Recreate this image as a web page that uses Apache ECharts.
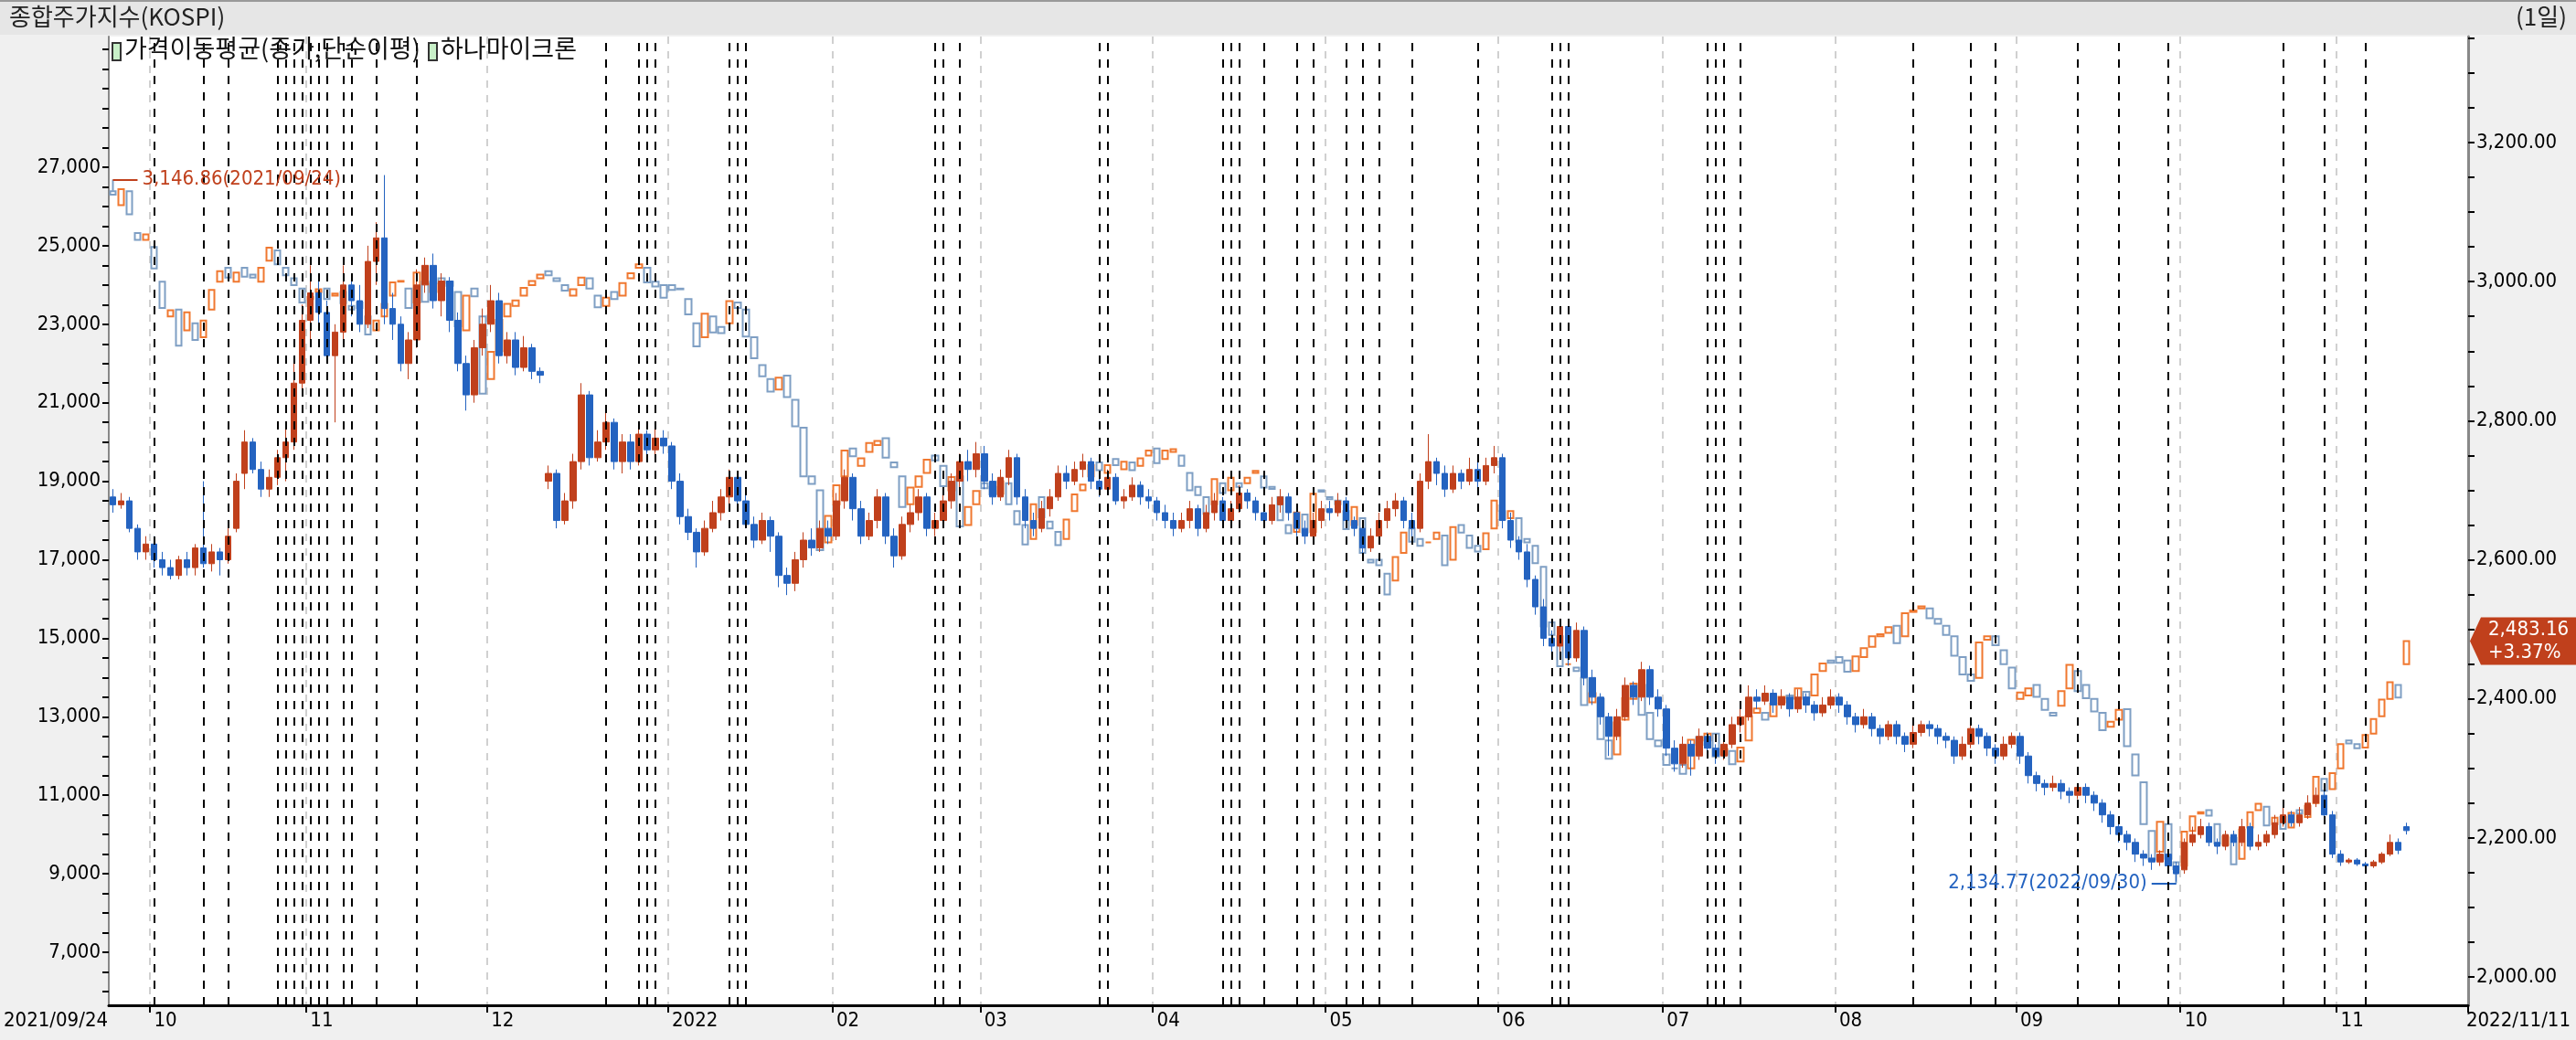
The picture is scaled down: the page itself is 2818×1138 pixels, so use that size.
<!DOCTYPE html>
<html><head><meta charset="utf-8">
<script src="https://cdn.jsdelivr.net/npm/echarts@6/dist/echarts.min.js"></script>
<style>html,body{margin:0;padding:0;background:#f0f0f0}#c{width:2818px;height:1138px}</style>
</head><body><div id="c"></div>
<script>
const holidays = ['2021-10-04','2021-10-11','2021-12-31','2022-01-31','2022-02-01','2022-02-02','2022-03-01','2022-03-09','2022-05-05','2022-06-01','2022-06-06','2022-08-15','2022-09-09','2022-09-12','2022-10-03','2022-10-10'];

// 하나마이크론 daily [open, close, low, high] in units of 100 KRW
const hana2109 = [[186,184,182,188],[184,185,183,187],[185,178,177,186],[178,172,170,179],[172,174,170,176]];
const hana2110 = [[174,170,168,176],[170,168,166,172],[168,166,165,170],[166,170,165,171],[170,168,166,172],[168,173,166,174],[173,169,168,190],[169,172,167,174],[172,170,166,173],[170,176,169,178],[178,190,177,192],[192,200,188,203],[200,193,192,201],[193,188,186,195],[188,191,186,193],[191,196,189,198],[196,200,190,205],[200,215,198,220],[215,231,213,235]];
const hana2111 = [[231,238,225,245],[238,233,230,242],[233,222,220,236],[222,228,205,230],[228,240,226,245],[240,236,232,242],[236,230,228,240],[230,246,229,250],[246,252,240,256],[252,234,230,268],[234,230,226,238],[230,220,218,232],[220,226,216,228],[226,240,224,244],[240,245,238,247],[245,236,234,248],[236,241,232,243],[241,231,228,242],[231,220,218,233],[220,212,208,222],[212,224,210,226],[224,230,222,234]];
const hana2112 = [[230,236,228,240],[236,222,220,238],[222,226,220,228],[226,219,217,228],[219,224,218,227],[224,218,216,225],[218,217,215,219],[190,192,188,194],[192,180,178,193],[180,185,179,187],[185,195,183,197],[195,212,193,215],[212,196,194,213],[196,200,195,203],[200,205,198,208],[205,195,193,206],[195,200,192,202],[200,195,193,202],[195,202,194,204],[202,198,196,203],[198,201,196,204],[201,199,197,203]];
const hana2201 = [[199,190,188,200],[190,181,179,192],[181,177,175,183],[177,172,168,178],[172,178,171,180],[178,182,177,185],[182,186,180,188],[186,191,184,193],[191,185,183,192],[185,179,178,187],[179,175,173,181],[175,180,174,182],[180,176,172,181],[176,166,163,177],[166,164,161,168],[164,170,162,172],[170,175,168,177],[175,173,171,178],[173,178,172,180],[178,176,174,180]];
const hana2202 = [[176,185,175,187],[185,191,183,193],[191,183,180,192],[183,176,174,185],[176,180,175,182],[180,186,178,188],[186,176,174,187],[176,171,168,178],[171,179,170,181],[179,182,177,184],[182,186,180,188],[186,178,176,187],[178,180,176,182],[180,185,178,187],[185,190,183,192],[190,195,188,197],[195,193,190,198],[193,197,191,200]];
const hana2203 = [[197,190,188,199],[190,186,184,192],[186,191,185,193],[191,196,189,198],[196,186,184,197],[186,180,178,188],[180,178,176,182],[178,183,177,185],[183,186,181,188],[186,192,185,194],[192,190,188,194],[190,193,189,195],[193,195,191,197],[195,190,188,196],[190,188,186,192],[188,191,187,193],[191,185,184,192],[185,186,183,188],[186,189,185,191],[189,186,184,190],[186,185,183,188]];
const hana2204 = [[185,182,180,186],[182,180,178,184],[180,178,176,182],[178,180,177,182],[180,183,178,185],[183,178,176,184],[178,182,177,184],[182,185,180,187],[185,180,179,186],[180,183,178,185],[183,187,182,189],[187,185,183,188],[185,182,180,186],[182,180,178,183],[180,184,179,186],[184,186,182,188],[186,182,180,187],[182,178,176,183],[178,176,174,180],[176,180,175,182],[180,183,178,185]];
const hana2205 = [[183,182,180,185],[182,185,181,187],[185,180,178,186],[180,178,176,181],[178,173,171,179],[173,176,172,178],[176,180,175,182],[180,183,178,185],[183,185,181,187],[185,180,178,186],[180,178,175,182],[178,190,177,192],[190,195,188,202],[195,192,189,196],[192,188,186,194],[188,192,187,194],[192,190,188,193],[190,193,189,196],[193,190,188,195],[190,194,189,196],[194,196,192,199]];
const hana2206 = [[196,180,178,197],[180,175,173,182],[175,172,170,176],[172,165,163,174],[165,158,156,166],[158,150,148,160],[150,148,146,152],[148,153,146,155],[153,145,143,154],[145,152,144,154],[152,140,138,153],[140,135,133,142],[135,130,128,136],[130,125,120,131],[125,130,124,132],[130,138,129,140],[138,135,133,139],[135,142,134,144],[142,135,133,143],[135,132,130,137]];
const hana2207 = [[132,122,120,133],[122,118,116,124],[118,123,117,125],[123,120,115,124],[120,125,119,127],[125,122,120,126],[122,120,118,123],[120,123,119,125],[123,128,122,130],[128,130,126,132],[130,135,129,138],[135,134,132,137],[134,136,133,138],[136,133,131,137],[133,135,132,137],[135,132,130,136],[132,135,131,137],[135,133,131,136],[133,131,129,134],[131,133,130,135],[133,135,132,137]];
const hana2208 = [[135,133,131,136],[133,130,128,134],[130,128,126,131],[128,130,127,132],[130,127,125,131],[127,125,123,128],[125,128,124,129],[128,125,123,129],[125,123,121,126],[123,126,122,128],[126,128,125,129],[128,127,125,129],[127,125,123,128],[125,124,122,126],[124,120,118,125],[120,123,119,125],[123,127,122,128],[127,125,123,128],[125,122,120,126],[122,120,118,123],[120,123,119,125],[123,125,122,126]];
const hana2209 = [[125,120,118,126],[120,115,113,121],[115,113,111,116],[113,112,110,114],[112,113,111,115],[113,111,109,114],[111,110,108,112],[110,112,109,113],[112,110,108,113],[110,108,106,111],[108,105,103,109],[105,102,100,106],[102,100,98,103],[100,98,96,101],[98,95,93,99],[95,94,92,96],[94,93,91,95],[93,95,92,96],[95,92,90,96],[92,90,88,93]];
const hana2210 = [[91,98,90,99],[98,100,97,102],[100,102,99,104],[102,98,97,103],[98,97,95,99],[97,100,96,101],[100,98,97,101],[98,102,97,104],[102,97,96,103],[97,98,96,100],[98,100,97,101],[100,103,99,105],[103,105,102,107],[105,103,102,106],[103,105,102,107],[105,108,104,110],[108,110,107,112],[110,105,104,111],[105,95,94,106]];
const hana2211 = [[95,93,92,96],[93,93.5,92.5,94],[93.5,92.5,92,94],[92.5,92,91,93],[92,93,91.5,93.5],[93,95,92.5,95.5],[95,98,94.5,100],[98,96,95,99],[102,101,100,103]];

// KOSPI daily open / close
const kospiFirstHigh = 3146.86, kospiLowValue = 2134.77;
const kospiO2109 = [3130,3110,3130,3070,3060];
const kospiC2109 = [3125,3133,3097,3060,3068];
const kospiO2110 = [3050,3000,2950,2960,2930,2940,2920,2960,3000,3020,3000,3020,3010,3000,3030,3045,3020,3005,2990];
const kospiC2110 = [3019,2962,2959,2908,2956,2916,2944,2988,3015,3006,3013,3007,3006,3020,3049,3025,3009,2995,2970];
const kospiO2111 = [2975,2985,2990,2980,2985,2965,2970,2950,2930,2950,2980,3000,2990,2970,3000,2985,3005,3000,2985,2930,2990,2950];
const kospiC2111 = [2978,2989,2975,2983,2969,2960,2962,2924,2944,2968,2999,3001,2962,3013,2971,2997,2998,2994,2936,2980,2979,2839];
const kospiO2112 = [2860,2900,2950,2965,2980,2995,3005,3015,3005,2995,2980,2995,3005,2980,2965,2985,2980,3005,3020,3020,3000,2995];
const kospiC2112 = [2899,2945,2968,2973,2991,3001,3010,3009,3001,2987,2989,3006,2990,2963,2977,2975,2998,3012,3025,2999,2993,2977];
const kospiO2201 = [2995,2990,2975,2940,2920,2950,2935,2940,2970,2960,2920,2880,2860,2845,2865,2830,2790,2720,2700,2625];
const kospiC2201 = [2988,2989,2953,2907,2954,2927,2926,2972,2962,2921,2890,2864,2842,2862,2834,2792,2720,2709,2614,2663];
const kospiO2202 = [2680,2720,2760,2735,2755,2765,2775,2740,2720,2680,2705,2725,2750,2735,2700,2720,2650,2680];
const kospiC2202 = [2707,2757,2749,2746,2768,2771,2747,2733,2676,2704,2720,2744,2743,2706,2719,2648,2676,2699];
const kospiO2203 = [2710,2705,2695,2710,2670,2650,2630,2690,2655,2640,2630,2670,2700,2720,2740,2725,2745,2730,2740,2735,2750];
const kospiC2203 = [2703,2694,2713,2680,2651,2622,2680,2661,2645,2621,2658,2694,2708,2736,2729,2736,2736,2741,2729,2746,2757];
const kospiO2204 = [2760,2745,2755,2750,2725,2705,2690,2680,2710,2700,2710,2710,2725,2720,2705,2690,2650,2640,2665,2640,2700];
const kospiC2204 = [2739,2757,2759,2735,2700,2693,2666,2716,2696,2718,2705,2718,2728,2704,2702,2657,2638,2668,2639,2695,2698];
const kospiO2205 = [2690,2685,2670,2650,2660,2600,2600,2580,2570,2610,2645,2630,2625,2630,2635,2600,2650,2635,2620,2615,2645];
const kospiC2205 = [2687,2680,2644,2676,2610,2596,2592,2550,2604,2639,2626,2620,2625,2639,2592,2647,2639,2617,2612,2638,2685];
const kospiO2206 = [2670,2660,2660,2630,2620,2590,2510,2490,2450,2445,2430,2395,2400,2340,2320,2370,2400,2420,2380,2340];
const kospiC2206 = [2658,2670,2626,2625,2595,2504,2492,2447,2450,2440,2391,2408,2342,2314,2366,2401,2422,2377,2342,2332];
const kospiO2207 = [2320,2300,2305,2300,2345,2340,2350,2320,2325,2310,2340,2380,2380,2375,2395,2405,2400,2410,2405,2440,2455];
const kospiC2207 = [2305,2300,2292,2341,2334,2350,2317,2328,2306,2330,2375,2386,2370,2393,2403,2401,2415,2402,2435,2451,2452];
const kospiO2208 = [2460,2455,2440,2460,2475,2490,2495,2505,2490,2525,2530,2530,2515,2505,2490,2460,2435,2430,2485,2490,2470,2445];
const kospiC2208 = [2452,2439,2461,2473,2490,2493,2503,2480,2523,2527,2533,2516,2508,2492,2462,2435,2426,2481,2490,2477,2450,2415];
const kospiO2209 = [2400,2405,2420,2400,2380,2390,2415,2440,2420,2400,2380,2360,2370,2385,2320,2280,2210,2180,2220,2165];
const kospiC2209 = [2409,2415,2403,2384,2376,2411,2449,2411,2401,2382,2355,2367,2384,2332,2290,2220,2169,2223,2170,2155];
const kospiO2210 = [2160,2210,2235,2240,2220,2190,2200,2170,2215,2240,2245,2220,2230,2215,2240,2230,2250,2285,2270];
const kospiC2210 = [2209,2231,2237,2232,2192,2202,2162,2212,2237,2249,2218,2229,2213,2236,2235,2246,2288,2268,2293];
const kospiO2211 = [2300,2340,2335,2330,2350,2375,2400,2420,2450];
const kospiC2211 = [2335,2336,2329,2348,2371,2399,2424,2402,2483.16];

const eventIdx = [5,11,14,20,21,22,23,24,25,26,28,29,32,37,60,64,65,66,75,76,77,100,101,103,120,121,135,136,137,140,144,146,150,152,154,158,166,175,176,177,194,195,196,198,219,226,229,239,244,250,264,269,274];
const lastChangeText = '+3.37%';

// ---- build ----
const pad = n => String(n).padStart(2,'0');
const dates = [];
{
  let d = new Date(Date.UTC(2021,8,24)); const e = Date.UTC(2022,10,11);
  while (d.getTime() <= e) {
    const s = d.getUTCFullYear()+'-'+pad(d.getUTCMonth()+1)+'-'+pad(d.getUTCDate());
    const wd = d.getUTCDay();
    if (wd!==0 && wd!==6 && holidays.indexOf(s)<0) dates.push(s);
    d = new Date(d.getTime()+86400000);
  }
}
const cats = dates.concat([' ','  ','   ','    ','     ','      ','       ']);
const monthStart = cats.map((s,i)=> s.length===10 && i>0 && s.slice(0,7)!==cats[i-1].slice(0,7));

const hanaRaw = [].concat(hana2109,hana2110,hana2111,hana2112,hana2201,hana2202,hana2203,hana2204,hana2205,hana2206,hana2207,hana2208,hana2209,hana2210,hana2211);
const hanaData = hanaRaw.map(r=>[r[0]*100,r[1]*100,r[2]*100,r[3]*100]);
const kO = [].concat(kospiO2109,kospiO2110,kospiO2111,kospiO2112,kospiO2201,kospiO2202,kospiO2203,kospiO2204,kospiO2205,kospiO2206,kospiO2207,kospiO2208,kospiO2209,kospiO2210,kospiO2211);
const kC = [].concat(kospiC2109,kospiC2110,kospiC2111,kospiC2112,kospiC2201,kospiC2202,kospiC2203,kospiC2204,kospiC2205,kospiC2206,kospiC2207,kospiC2208,kospiC2209,kospiC2210,kospiC2211);
const kospiData = kC.map((c,i)=>{
  const o = kO[i];
  let lo = Math.min(o,c), hi = Math.max(o,c);
  if (i===0) hi = kospiFirstHigh;
  if (dates[i]==='2022-09-30') lo = kospiLowValue;
  return [o,c,lo,hi];
});
const lowIdx = dates.indexOf('2022-09-30');
const lastIdx = kC.length-1;

const fmt0 = v => Math.round(v).toLocaleString('en-US');
const fmt2 = v => v.toLocaleString('en-US',{minimumFractionDigits:2,maximumFractionDigits:2});
const leftLabels=[], leftTicks=[]; for(let v=7000; v<=27000; v+=2000) leftLabels.push(v);
for(let v=6000; v<=30000; v+=500) leftTicks.push(v);
const rightLabels=[], rightTicks=[]; for(let v=2000; v<=3200; v+=200) rightLabels.push(v);
for(let v=2000; v<=3350; v+=50) rightTicks.push(v);

const FONT = 'DejaVu Sans Condensed';
const chart = echarts.init(document.getElementById('c'));
chart.setOption({
  backgroundColor:'#f0f0f0',
  animation:false,
  textStyle:{fontFamily:FONT},
  grid:{left:119,right:118,top:40,bottom:38,show:true,backgroundColor:'#ffffff',borderWidth:0},
  xAxis:{type:'category',data:cats,boundaryGap:true,
    axisLine:{lineStyle:{color:'#000',width:3}},
    axisTick:{show:true,interval:(i)=>monthStart[i],length:8,lineStyle:{color:'#000',width:2}},
    axisLabel:{interval:(i)=>monthStart[i],color:'#000',fontSize:22,fontFamily:FONT,align:'left',margin:6,
      formatter:(v)=>{const m=v.slice(5,7); return m==='01'? v.slice(0,4) : m;}},
    splitLine:{show:true,interval:(i)=>monthStart[i],lineStyle:{color:'#d0d0d0',type:[8,8],width:2}}
  },
  yAxis:[
    {type:'value',position:'left',min:5650,max:30329,
      axisLine:{show:true,lineStyle:{color:'#888',width:2}},
      axisTick:{show:true,length:7,customValues:leftTicks,lineStyle:{color:'#000',width:2}},
      axisLabel:{customValues:leftLabels,formatter:fmt0,color:'#000',fontSize:22,fontFamily:FONT,margin:9},
      splitLine:{show:false}},
    {type:'value',position:'right',min:1959.3,max:3352.5,
      axisLine:{show:true,lineStyle:{color:'#888',width:3}},
      axisTick:{show:true,length:7,customValues:rightTicks,lineStyle:{color:'#000',width:2}},
      axisLabel:{customValues:rightLabels,formatter:fmt2,color:'#000',fontSize:22,fontFamily:FONT,margin:9},
      splitLine:{show:false}}
  ],
  series:[
    {name:'KOSPI',type:'candlestick',yAxisIndex:1,data:kospiData,barWidth:7,
      itemStyle:{color:'#ffffff',color0:'#ffffff',borderColor:'#f07830',borderColor0:'#7f9fc4',borderWidth:2},
      markLine:{symbol:['none','none'],silent:true,animation:false,
        data:[
          [{coord:[0,kospiFirstHigh],lineStyle:{color:'#c0401c',width:2,type:'solid'},
             label:{show:true,position:'end',formatter:fmt2(kospiFirstHigh)+'('+dates[0].replace(/-/g,'/')+')',color:'#c0401c',fontSize:22,fontFamily:FONT}},
           {coord:[3,kospiFirstHigh]}],
          [{coord:[lowIdx,kospiLowValue],lineStyle:{color:'#2463c0',width:2,type:'solid'},
             label:{show:true,position:'end',formatter:fmt2(kospiLowValue)+'('+dates[lowIdx].replace(/-/g,'/')+')',color:'#2463c0',fontSize:22,fontFamily:FONT}},
           {coord:[lowIdx-3,kospiLowValue]}]
        ]}},
    {name:'하나마이크론',type:'candlestick',yAxisIndex:0,data:hanaData,barWidth:7,
      itemStyle:{color:'#c0401c',color0:'#2463c0',borderColor:'#c0401c',borderColor0:'#2463c0',borderWidth:1},
      markLine:{symbol:['none','none'],silent:true,animation:false,label:{show:false},
        lineStyle:{color:'#000',type:[9,9],width:2},
        data:eventIdx.map(i=>({xAxis:i}))}}
  ]
});
const tagY = chart.convertToPixel({yAxisIndex:1}, kC[lastIdx]);
chart.setOption({graphic:[
    {type:'rect',left:0,top:0,shape:{width:2818,height:38},style:{fill:'#e6e6e6'},z:0},
    {type:'rect',left:0,top:0,shape:{width:2818,height:2},style:{fill:'#999'},z:1},
    {type:'text',left:10,top:5,style:{text:'종합주가지수(KOSPI)',font:'26px "Noto Sans CJK KR"',fill:'#222'}},
    {type:'text',right:10,top:5,style:{text:'(1일)',font:'26px "Noto Sans CJK KR"',fill:'#222'}},
    {type:'rect',left:122,top:46,shape:{width:9,height:19},style:{fill:'#c8f0c8',stroke:'#333',lineWidth:2},z:10},
    {type:'text',left:136,top:39,style:{text:'가격이동평균(종가,단순이평)',font:'27px "Noto Sans CJK KR"',fill:'#111'},z:10},
    {type:'rect',left:468,top:46,shape:{width:9,height:19},style:{fill:'#c8f0c8',stroke:'#333',lineWidth:2},z:10},
    {type:'text',left:482,top:39,style:{text:'하나마이크론',font:'27px "Noto Sans CJK KR"',fill:'#111'},z:10},
    {type:'text',left:4,top:1106,style:{text:dates[0].replace(/-/g,'/'),font:'22px "DejaVu Sans Condensed"',fill:'#000'}},
    {type:'text',right:6,top:1106,style:{text:dates[dates.length-1].replace(/-/g,'/'),font:'22px "DejaVu Sans Condensed"',fill:'#000'}},
    {type:'polygon',z:20,shape:{points:[[2702,tagY],[2714,tagY-26],[2818,tagY-26],[2818,tagY+26],[2714,tagY+26]]},style:{fill:'#c0401c'}},
    {type:'text',z:21,left:2722,top:tagY-25,style:{text:fmt2(kC[lastIdx])+'\n'+lastChangeText,font:'22px "DejaVu Sans Condensed"',fill:'#fff',lineHeight:25,align:'left'}}
]});
</script></body></html>
